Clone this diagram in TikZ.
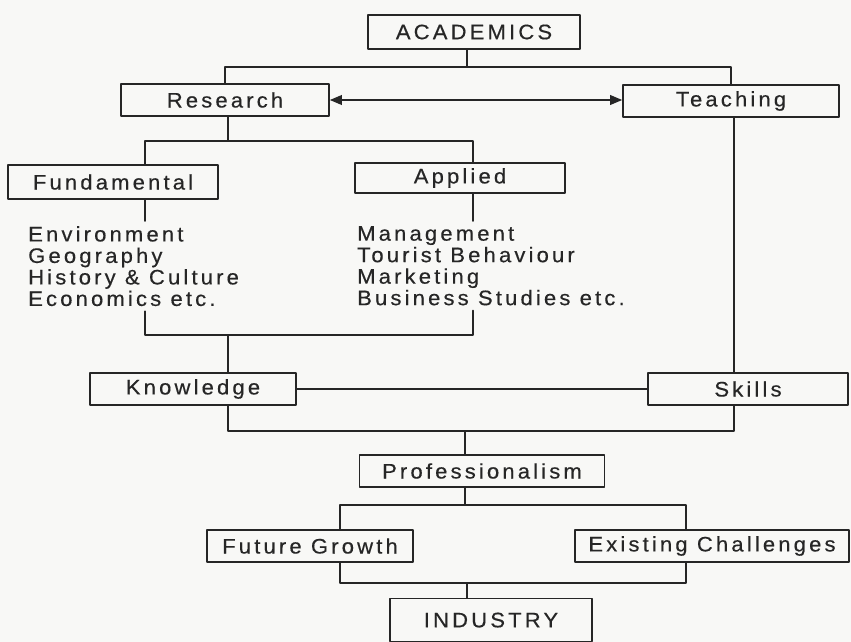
\documentclass[tikz,border=0pt]{standalone}
\usepackage{fontspec}
\newfontfamily\diagfont[LetterSpace=15,FakeStretch=1.05,FakeBold=0.4]{Liberation Sans}
\usetikzlibrary{arrows}
\definecolor{ink}{HTML}{262626}
\definecolor{paper}{HTML}{F8F8F6}

\begin{document}
\begin{tikzpicture}[line cap=round,line join=round,>=triangle 45,x=1pt,y=-1pt,
    every node/.style={font=\diagfont\fontsize{21}{21.5}\selectfont,text=ink},
    box/.style={draw=ink,line width=1.8pt,minimum height=32pt,inner sep=0pt},
    link/.style={draw=ink,line width=1.8pt}]
            \fill[paper] (0,0) rectangle (851,642);
            \useasboundingbox (0,0) rectangle (851,642);

            % columns and junctions of the tree
            \coordinate (lcol) at (145,0);
            \coordinate (rcol) at (473,0);
            \coordinate (tcol) at (734,0);
            \coordinate (fcol) at (340,0);
            \coordinate (ecol) at (686,0);
            \coordinate (b1) at (467,67);
            \coordinate (b2) at (228,141);
            \coordinate (b3) at (228,335);
            \coordinate (b4) at (465,431);
            \coordinate (b5) at (465,505);
            \coordinate (b6) at (467,583);

            \node[box,minimum width=212pt,minimum height=34pt] (acad) at (474,32) {ACADEMICS};
            \node[box,minimum width=208pt] (research) at (225,100) {Research};
            \node[box,minimum width=216pt] (teaching) at (731,101) {Teaching};
            \node[box,minimum width=210pt,minimum height=34pt] (fund) at (113,182) {Fundamental};
            \node[box,minimum width=210pt,minimum height=30pt] (applied) at (460,178) {Applied};

            \node[align=left,anchor=north west,inner xsep=0pt,inner ysep=5pt] (envlist) at (28,221)
                {Environment\\Geography\\History \& Culture\\Economics etc.};
            \node[align=left,anchor=north west,inner xsep=0pt,inner ysep=5pt] (applist) at (357,221)
                {Management\\Tourist Behaviour\\Marketing\\Business Studies etc.};

            \node[box,minimum width=206pt] (know) at (193,389) {Knowledge};
            \node[box,minimum width=200pt] (skills) at (748,389) {Skills};
            \node[box,minimum width=245pt] (prof) at (482,471) {Professionalism};
            \node[box,minimum width=206pt] (future) at (310,546) {Future Growth};
            \node[box,minimum width=274pt] (exist) at (712,546) {Existing Challenges};
            \node[box,minimum width=202pt,minimum height=43pt,text depth=-6pt] (industry) at (491,620) {INDUSTRY};

            % academics splits into research and teaching
            \draw[link] (acad.south -| b1) -- (b1);
            \draw[link] (research.north) |- (b1) -| (teaching.north);
            \draw[link,<->] (research.east) -- (research.east -| teaching.west);

            % research branches
            \draw[link] (research.south -| b2) -- (b2);
            \draw[link] (fund.north -| lcol) |- (b2) -| (applied.north -| rcol);
            \draw[link] (fund.south -| lcol) -- (envlist.north -| lcol);
            \draw[link] (applied.south -| rcol) -- (applist.north -| rcol);
            \draw[link] (envlist.south -| lcol) |- (b3) -| (applist.south -| rcol);
            \draw[link] (b3) -- (know.north -| b3);

            % teaching gives skills
            \draw[link] (teaching.south -| tcol) -- (skills.north -| tcol);
            \draw[link] (know.east) -- (skills.west);

            % down to professionalism and industry
            \draw[link] (know.south -| b3) |- (b4) -| (skills.south -| tcol);
            \draw[link] (b4) -- (prof.north -| b4);
            \draw[link] (prof.south -| b5) -- (b5);
            \draw[link] (future.north -| fcol) |- (b5) -| (exist.north -| ecol);
            \draw[link] (future.south -| fcol) |- (b6) -| (exist.south -| ecol);
            \draw[link] (b6) -- (industry.north -| b6);
\end{tikzpicture}
\end{document}
